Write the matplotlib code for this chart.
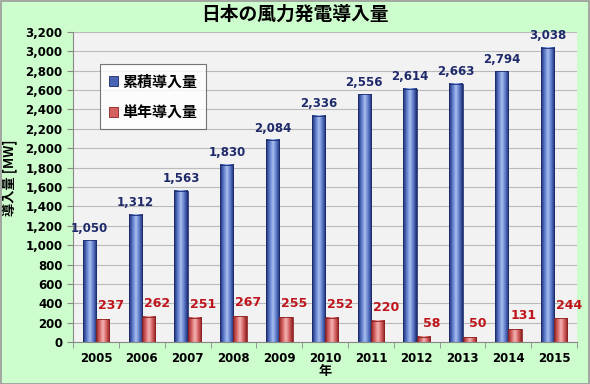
import numpy as np
import matplotlib.pyplot as plt
from matplotlib.colors import LinearSegmentedColormap
from matplotlib.patches import Rectangle

plt.rcParams['font.family'] = ['Noto Sans CJK JP', 'DejaVu Sans']

# --- data ---
years = ['2005', '2006', '2007', '2008', '2009', '2010', '2011', '2012', '2013', '2014', '2015']
cumulative = [1050, 1312, 1563, 1830, 2084, 2336, 2556, 2614, 2663, 2794, 3038]
annual = [237, 262, 251, 267, 255, 252, 220, 58, 50, 131, 244]

BG = '#cdfccd'
BLUE_LBL = '#1f2a6b'
RED_LBL = '#c0141c'
NUM_FONT = ['DejaVu Sans']

fig = plt.figure(figsize=(5.9, 3.84), dpi=100, facecolor=BG)
ax = fig.add_axes([0.124, 0.109, 0.854, 0.808])
ax.set_facecolor('#f2f2f2')

# cylinder-like shading
blue_cm = LinearSegmentedColormap.from_list('b', ['#1c2a6e', '#5a78c8', '#a8bff0', '#5a78c8', '#1c2a6e'])
red_cm = LinearSegmentedColormap.from_list('r', ['#8c2020', '#d46060', '#f4b4b4', '#d46060', '#8c2020'])
grad = np.linspace(0, 1, 64).reshape(1, -1)

x = np.arange(len(years))
w = 0.29
b1 = ax.bar(x - w / 2, cumulative, w, color='none', edgecolor='#1c2a6e', linewidth=0.6, zorder=3)
b2 = ax.bar(x + w / 2, annual, w, color='none', edgecolor='#8c2020', linewidth=0.6, zorder=3)
for bars, cm in ((b1, blue_cm), (b2, red_cm)):
    for r in bars:
        x0, y0 = r.get_x(), r.get_y()
        ax.imshow(grad, cmap=cm, aspect='auto', zorder=2,
                  extent=[x0, x0 + r.get_width(), y0, y0 + r.get_height()])

ax.set_xlim(-0.5, len(years) - 0.5)
ax.set_ylim(0, 3200)
ax.set_yticks(np.arange(0, 3201, 200))
ax.set_yticklabels([f'{v:,}' for v in range(0, 3201, 200)])
ax.set_xticks(x)
ax.set_xticklabels(years)
ax.set_xticks(np.arange(-0.5, len(years)), minor=True)
ax.tick_params(axis='x', which='major', length=0, pad=7)
ax.tick_params(axis='x', which='minor', length=4, color='#888888')
ax.tick_params(axis='y', length=4, color='#888888')
for lab in ax.get_xticklabels() + ax.get_yticklabels():
    lab.set_fontweight('bold')
    lab.set_fontsize(8.5)
    lab.set_family(NUM_FONT)
ax.grid(axis='y', color='#bbbbbb', linewidth=0.8, zorder=0)
ax.set_axisbelow(True)
for s in ['top', 'right']:
    ax.spines[s].set_visible(False)
ax.spines['left'].set_color('#888888')
ax.spines['bottom'].set_color('#888888')

# value labels
for xi, v in zip(x, cumulative):
    ax.annotate(f'{v:,}', (xi - w / 2, v), xytext=(0, 4), textcoords='offset points',
                ha='center', va='bottom', fontsize=8.5, fontweight='bold',
                color=BLUE_LBL, family=NUM_FONT)
for xi, v in zip(x, annual):
    ax.annotate(f'{v:,}', (xi + w / 2, v), xytext=(6, 5), textcoords='offset points',
                ha='center', va='bottom', fontsize=9, fontweight='bold',
                color=RED_LBL, family=NUM_FONT)

ax.set_ylabel('導入量 [MW]', fontsize=9.5, fontweight='bold')
ax.yaxis.set_label_coords(-0.11, 0.53)
ax.set_xlabel('年', fontsize=9.5, fontweight='bold')
ax.xaxis.set_label_coords(0.5, -0.072)
fig.text(0.5, 0.962, '日本の風力発電導入量', ha='center', va='center', fontsize=13.5, fontweight='bold')

# legend
h1 = Rectangle((0, 0), 1, 1, facecolor='#4a64b4', edgecolor='#1c2a6e', linewidth=0.6)
h2 = Rectangle((0, 0), 1, 1, facecolor='#d46060', edgecolor='#8c2020', linewidth=0.6)
leg = ax.legend([h1, h2], ['累積導入量', '単年導入量'], loc='upper left',
                bbox_to_anchor=(0.053, 0.895), frameon=True, fancybox=False,
                handlelength=0.6, handleheight=0.6, handletextpad=0.3,
                labelspacing=1.0, borderpad=0.6, borderaxespad=0,
                prop={'size': 10.8, 'weight': 'bold'})
leg.get_frame().set_edgecolor('#555555')
leg.get_frame().set_linewidth(0.8)
leg.set_zorder(5)

fig.patches.append(Rectangle((0.001, 0.001), 0.997, 0.997, transform=fig.transFigure,
                             fill=False, edgecolor='#999999', linewidth=1.2))

fig.savefig('out.png', dpi=100, facecolor=BG)
